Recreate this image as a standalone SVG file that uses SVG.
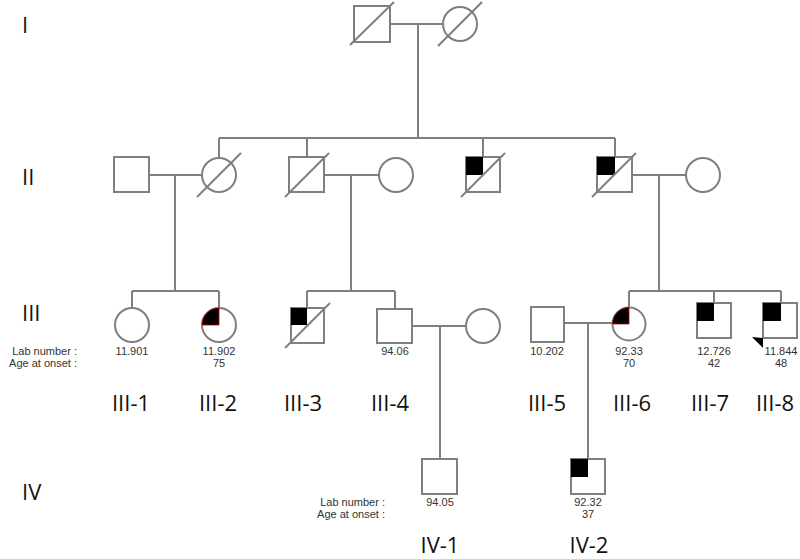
<svg xmlns="http://www.w3.org/2000/svg" width="800" height="559" viewBox="0 0 800 559">
<style>
.s{fill:#fff;stroke:#7f7f7f;stroke-width:2}
.l{stroke:#7f7f7f;stroke-width:2;fill:none}
.q{fill:#000;stroke:#c00000;stroke-width:0.8}
.g{font-family:"Open Sans","Noto Sans",sans-serif;font-size:22px;fill:#111}
.t{font-family:"Liberation Sans",Arial,sans-serif;font-size:11px;fill:#333;text-anchor:middle}
.h{font-family:"Liberation Sans",Arial,sans-serif;font-size:11px;fill:#333;text-anchor:end}
</style>
<rect width="800" height="559" fill="#fff"/>
<g id="connectors">
<path class="l" d="M390 24H443M418 24V138M219 138H615M219 138V158M307 138V157M483 138V157M615 138V157"/>
<path class="l" d="M149 175H202M175 175V291M132 291H219M132 291V308M219 291V308"/>
<path class="l" d="M324 175H379M351 175V291M307 291H395M307 291V308M395 291V309"/>
<path class="l" d="M632 175H686M659 175V291M629 291H781M629 291V307M714 291V303M781 291V303"/>
<path class="l" d="M412 326H466M440 326V459"/>
<path class="l" d="M564 323H612M588 323V459"/>
</g>
<g id="gen-labels">
<text class="g" x="22" y="33">I</text>
<text class="g" x="22" y="185">II</text>
<text class="g" x="22" y="321">III</text>
<text class="g" x="22" y="500">IV</text>
</g>
<g id="I-1"><rect class="s" x="354" y="6" width="36" height="36"/><path class="l" d="M350 45L394 2"/></g>
<g id="I-2"><circle class="s" cx="460" cy="24" r="17"/><path class="l" d="M438 46L482 2"/></g>
<g id="II-1"><rect class="s" x="114" y="157" width="35" height="35"/></g>
<g id="II-2"><circle class="s" cx="219" cy="175" r="17"/><path class="l" d="M197 197L241 153"/></g>
<g id="II-3"><rect class="s" x="289" y="157" width="35" height="35"/><path class="l" d="M285 197L329 153"/></g>
<g id="II-4"><circle class="s" cx="396" cy="175" r="17"/></g>
<g id="II-5"><rect class="s" x="466" y="157" width="34" height="35"/><rect x="466" y="157" width="17" height="18" fill="#000"/><path class="l" d="M461 197L505 153"/></g>
<g id="II-6"><rect class="s" x="597" y="157" width="35" height="35"/><rect x="597" y="157" width="18" height="18" fill="#000"/><path class="l" d="M592 197L636 153"/></g>
<g id="II-7"><circle class="s" cx="703" cy="175" r="17"/></g>
<g id="III-1"><circle class="s" cx="132" cy="325" r="17"/><text class="t" x="132" y="355">11.901</text></g>
<g id="III-2"><circle class="s" cx="219" cy="325" r="17"/><path class="q" d="M219 325V308A17 17 0 0 0 202 325Z"/><text class="t" x="219" y="355">11.902</text><text class="t" x="219" y="367">75</text></g>
<g id="III-3"><rect class="s" x="291" y="308" width="33" height="35"/><rect x="291" y="308" width="16" height="17" fill="#000"/><path class="l" d="M285 348L330 303"/></g>
<g id="III-4"><rect class="s" x="377" y="309" width="35" height="34"/><text class="t" x="395" y="355">94.06</text></g>
<g id="III-4s"><circle class="s" cx="483" cy="326" r="17"/></g>
<g id="III-5"><rect class="s" x="531" y="307" width="33" height="35"/><text class="t" x="547" y="355">10.202</text></g>
<g id="III-6"><circle class="s" cx="629" cy="324" r="16.5"/><path class="q" d="M629 324V307.5A16.5 16.5 0 0 0 612.5 324Z"/><text class="t" x="629" y="355">92.33</text><text class="t" x="629" y="367">70</text></g>
<g id="III-7"><rect class="s" x="697" y="303" width="34" height="35"/><rect x="697" y="303" width="17" height="18" fill="#000"/><text class="t" x="714" y="355">12.726</text><text class="t" x="714" y="367">42</text></g>
<g id="III-8"><rect class="s" x="763" y="303" width="34" height="35"/><rect x="763" y="303" width="18" height="18" fill="#000"/><path d="M752 337L763 338L763 348Z" fill="#000"/><text class="t" x="781" y="355">11.844</text><text class="t" x="781" y="367">48</text></g>
<g id="legend-III"><text class="h" x="77" y="355">Lab number :</text><text class="h" x="77" y="367">Age at onset :</text></g>
<g id="III-labels">
<text class="g" x="131" y="411" text-anchor="middle">III-1</text>
<text class="g" x="218" y="411" text-anchor="middle">III-2</text>
<text class="g" x="303" y="411" text-anchor="middle">III-3</text>
<text class="g" x="390" y="411" text-anchor="middle">III-4</text>
<text class="g" x="547" y="411" text-anchor="middle">III-5</text>
<text class="g" x="632" y="411" text-anchor="middle">III-6</text>
<text class="g" x="710" y="411" text-anchor="middle">III-7</text>
<text class="g" x="775" y="411" text-anchor="middle">III-8</text>
</g>
<g id="IV-1"><rect class="s" x="422" y="459" width="35" height="35"/><text class="t" x="440" y="506">94.05</text></g>
<g id="IV-2"><rect class="s" x="571" y="459" width="34" height="35"/><rect x="571" y="459" width="17" height="18" fill="#000"/><text class="t" x="588" y="506">92.32</text><text class="t" x="588" y="518">37</text></g>
<g id="legend-IV"><text class="h" x="385" y="506">Lab number :</text><text class="h" x="385" y="518">Age at onset :</text></g>
<g id="IV-labels">
<text class="g" x="440" y="553" text-anchor="middle">IV-1</text>
<text class="g" x="589" y="553" text-anchor="middle">IV-2</text>
</g>
</svg>
